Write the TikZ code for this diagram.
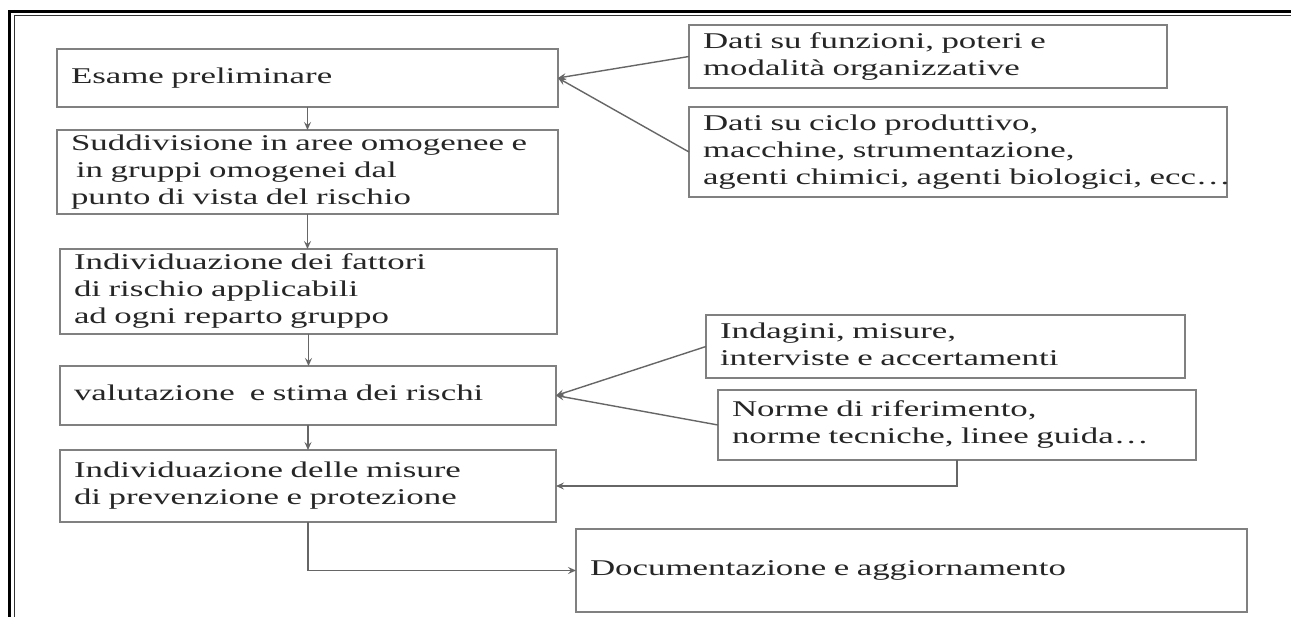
\documentclass[tikz,border=0pt]{standalone}
\usepackage{fontspec}
\setmainfont{Liberation Serif}[FakeStretch=1.55]
\usetikzlibrary{arrows.meta}
\newcommand\ml[1]{\begin{tabular}{@{}l@{}}#1\end{tabular}}
\tikzset{
  box/.style={draw=black!50, line width=1.5pt, inner xsep=14pt, inner ysep=0pt,
    outer sep=0pt, anchor=north west, align=left, text=black!85,
    font=\fontsize{22.5}{27}\selectfont},
  conn/.style={draw=black!60, line width=1.4pt},
  arr/.style={conn, -{Stealth[length=8pt,width=7pt,inset=3pt]}}
}
\begin{document}
\begin{tikzpicture}[x=1pt,y=-1pt]
\useasboundingbox (0,0) rectangle (1291,617);
\clip (0,0) rectangle (1291,617);
\fill[white] (0,0) rectangle (1291,617);
% frame
\draw[line width=3pt, black] (9,640) -- (9,11.5) -- (1300,11.5);
\draw[line width=1pt, black!80] (14,640) -- (14,16) -- (1300,16);
% left column
\node[box, minimum width=501pt, minimum height=58pt, text width=473pt] (b1) at (57,49)
  {\ml{Esame preliminare}};
\node[box, minimum width=501pt, minimum height=84pt, text width=473pt] (b2) at (57,130)
  {\ml{Suddivisione in aree omogenee e\\\hspace{5pt}in gruppi omogenei dal\\punto di vista del rischio}};
\node[box, minimum width=497pt, minimum height=85pt, text width=469pt] (b3) at (60,249)
  {\ml{Individuazione dei fattori\\di rischio applicabili\\ad ogni reparto gruppo}};
\node[box, minimum width=496pt, minimum height=59pt, text width=468pt] (b4) at (60,366)
  {\ml{valutazione\ \ e stima dei rischi}};
\node[box, minimum width=496pt, minimum height=72pt, text width=468pt] (b5) at (60,450)
  {\ml{Individuazione delle misure\\di prevenzione e protezione}};
\node[box, minimum width=671pt, minimum height=83pt, text width=643pt] (b6) at (576,529)
  {\ml{Documentazione e aggiornamento}};
% right column
\node[box, minimum width=478pt, minimum height=63pt, text width=450pt] (f1) at (689,25)
  {\ml{Dati su funzioni, poteri e\\modalità organizzative}};
\node[box, minimum width=538pt, minimum height=90pt, text width=510pt] (f2) at (689,107)
  {\ml{Dati su ciclo produttivo,\\macchine, strumentazione,\\agenti chimici, agenti biologici, ecc…}};
\node[box, minimum width=479pt, minimum height=63pt, text width=451pt] (i1) at (706,315)
  {\ml{Indagini, misure,\\interviste e accertamenti}};
\node[box, minimum width=478pt, minimum height=70pt, text width=450pt] (n1) at (718,390)
  {\ml{Norme di riferimento,\\norme tecniche, linee guida…}};
% connectors
\draw[arr] (b1.south) -- (b1.south |- b2.north);
\draw[arr] (b2.south) -- (b2.south |- b3.north);
\draw[arr] (b3.south) -- (b3.south |- b4.north);
\draw[arr] (b4.south) -- (b4.south |- b5.north);
\draw[arr] (b5.south) |- (b6.west);
\draw[arr] (f1.west) -- (b1.east);
\draw[arr] (f2.west) -- (b1.east);
\draw[arr] (i1.west) -- (b4.east);
\draw[arr] (n1.west) -- (b4.east);
\draw[arr] (n1.south) |- (b5.east);
\end{tikzpicture}
\end{document}
